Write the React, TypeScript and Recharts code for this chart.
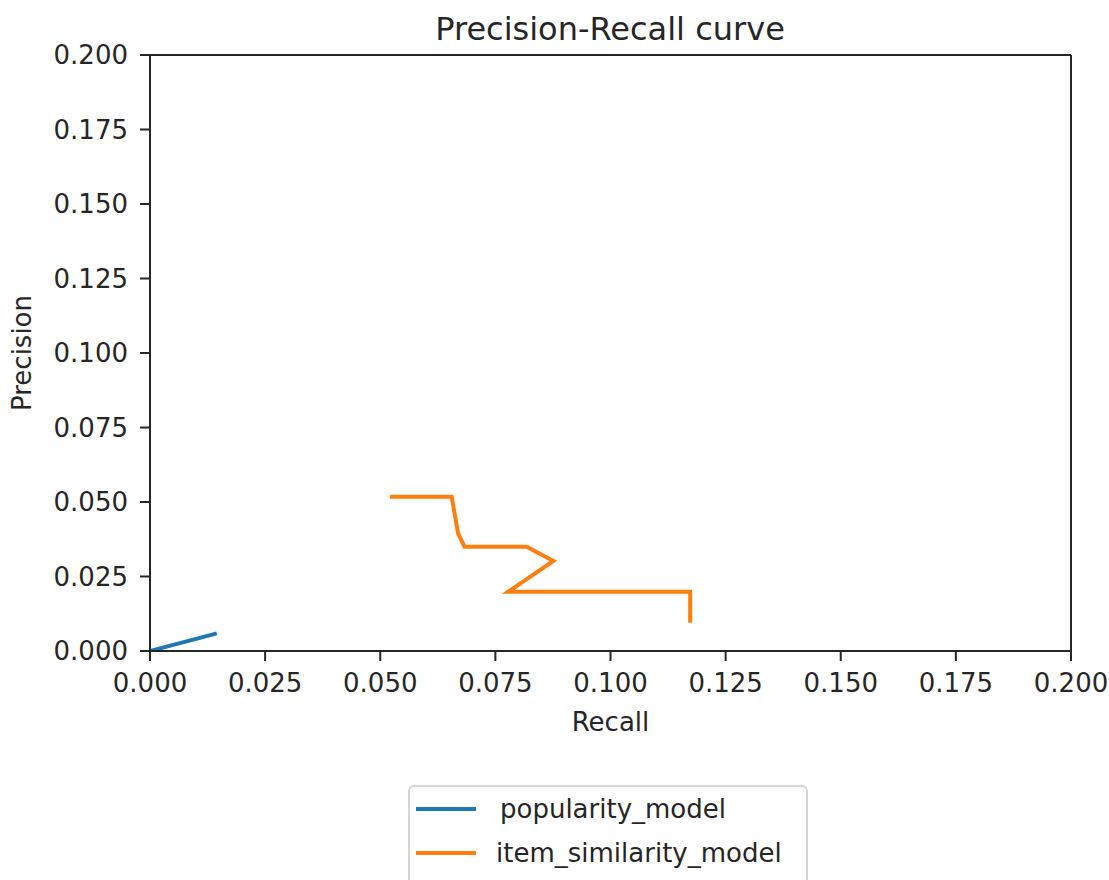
import React from 'react';
import { LineChart, Line, XAxis, YAxis, Legend, ReferenceLine } from 'recharts';

const popularityRecall = [0, 0.0145];
const popularityPrecision = [0, 0.0059];

const itemRecall = [0.0521, 0.0655, 0.0669, 0.0683, 0.0818, 0.0876, 0.0778, 0.1173, 0.1173];
const itemPrecision = [0.0518, 0.0518, 0.0395, 0.035, 0.035, 0.0302, 0.0199, 0.0199, 0.0095];

const ticks = [0, 0.025, 0.05, 0.075, 0.1, 0.125, 0.15, 0.175, 0.2];

const seriesNames = ['popularity_model', 'item_similarity_model'];
const seriesColors = ['#1f77b4', '#ff7f0e'];

const popularityData = popularityRecall.map((r, i) => ({ recall: r, precision: popularityPrecision[i] }));
const itemData = itemRecall.map((r, i) => ({ recall: r, precision: itemPrecision[i] }));

const FONT = '"DejaVu Sans", sans-serif';
const TEXT = '#262626';
const AXIS = '#262626';

const fmt = (v: number) => v.toFixed(3);

const LegendBox = () => (
    <div
        style={{
            boxSizing: 'border-box',
            width: 400,
            height: 110,
            border: '2px solid #d6d6d6',
            borderRadius: 6,
            background: '#fff',
            fontFamily: FONT,
            fontSize: 26,
            color: TEXT,
            paddingTop: 0,
        }}
    >
        {seriesNames.map((name, i) => (
            <div key={name} style={{ display: 'flex', alignItems: 'center', height: 44 }}>
                <div style={{ width: 60, height: 4, background: seriesColors[i], marginLeft: 6, marginRight: i === 0 ? 24 : 20 }} />
                <span>{name}</span>
            </div>
        ))}
    </div>
);

export default function App() {
    return (
        <div style={{ position: 'absolute', left: 0, top: 0, width: 1109, height: 880, overflow: 'hidden', background: '#fff' }}>
            <LineChart width={1109} height={880} margin={{ top: 55, right: 38, left: 0, bottom: 0 }}>
                <XAxis
                    dataKey="recall"
                    type="number"
                    domain={[0, 0.2]}
                    ticks={ticks}
                    tickFormatter={fmt}
                    allowDataOverflow
                    height={229}
                    stroke={AXIS}
                    strokeWidth={2}
                    tickSize={10}
                    tickMargin={13}
                    tick={{ fill: TEXT, fontSize: 26, fontFamily: FONT }}
                    label={{ value: 'Recall', position: 'insideTop', offset: 62, fill: TEXT, fontSize: 26, fontFamily: FONT }}
                />
                <YAxis
                    dataKey="precision"
                    type="number"
                    domain={[0, 0.2]}
                    ticks={ticks}
                    tickFormatter={fmt}
                    allowDataOverflow
                    width={150}
                    stroke={AXIS}
                    strokeWidth={2}
                    tickSize={10}
                    tickMargin={12}
                    tick={{ fill: TEXT, fontSize: 26, fontFamily: FONT }}
                    label={{
                        content: ({ viewBox }: any) => {
                            const cy = viewBox.y + viewBox.height / 2;
                            return (
                                <text
                                    x={22}
                                    y={cy}
                                    transform={`rotate(-90 22 ${cy})`}
                                    textAnchor="middle"
                                    dominantBaseline="central"
                                    fill={TEXT}
                                    fontSize={26}
                                    fontFamily={FONT}
                                >
                                    Precision
                                </text>
                            );
                        },
                    }}
                />
                <ReferenceLine y={0.2} stroke={AXIS} strokeWidth={2} ifOverflow="visible" />
                <ReferenceLine x={0.2} stroke={AXIS} strokeWidth={2} ifOverflow="visible" />
                <Line
                    data={popularityData}
                    dataKey="precision"
                    name={seriesNames[0]}
                    stroke={seriesColors[0]}
                    strokeWidth={4}
                    dot={false}
                    activeDot={false}
                    isAnimationActive={false}
                />
                <Line
                    data={itemData}
                    dataKey="precision"
                    name={seriesNames[1]}
                    stroke={seriesColors[1]}
                    strokeWidth={4}
                    dot={false}
                    activeDot={false}
                    isAnimationActive={false}
                />
                <Legend
                    layout="vertical"
                    align="center"
                    verticalAlign="middle"
                    content={() => <LegendBox />}
                    wrapperStyle={{ position: 'absolute', left: 408, top: 785, width: 400 }}
                />
            </LineChart>
            <svg style={{ position: 'absolute', left: 0, top: 0 }} width={1109} height={60}>
                <text x={610} y={40} textAnchor="middle" fill={TEXT} fontSize={32} fontFamily={FONT}>
                    Precision-Recall curve
                </text>
            </svg>
        </div>
    );
}
